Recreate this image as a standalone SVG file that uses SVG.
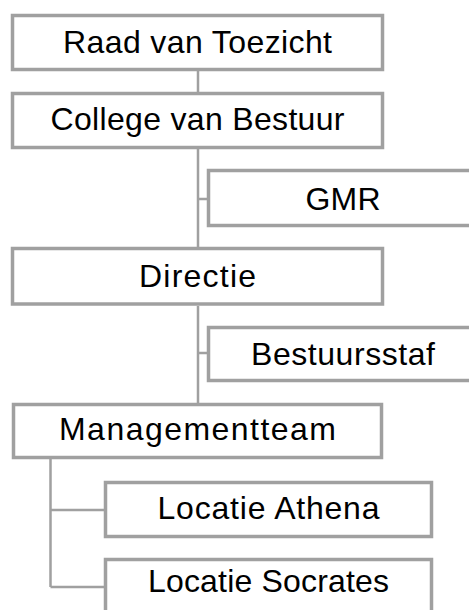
<svg xmlns="http://www.w3.org/2000/svg" width="469" height="610" viewBox="0 0 469 610">
<style>
.box{fill:#fff;stroke:#a0a0a0;stroke-width:3.5}
.lbl{font-family:"Liberation Sans",Arial,sans-serif;font-size:32px;fill:#000;text-anchor:middle}
.conn{fill:none;stroke:#a0a0a0;stroke-width:2.5}
</style>
<rect width="469" height="610" fill="#fff"/>
<g id="connectors">
<path class="conn" d="M198 71V92M198 148V247M198 199H207M198 306V403M198 353H207M50.5 459V587M50.5 510H104M50.5 587H104"/>
</g>
<g id="raad"><rect class="box" x="12.5" y="15.5" width="370" height="54"/><text class="lbl" x="197.5" y="53" textLength="269">Raad van Toezicht</text></g>
<g id="college"><rect class="box" x="12.5" y="93.5" width="370" height="54"/><text class="lbl" x="197.5" y="130" textLength="294">College van Bestuur</text></g>
<g id="gmr"><rect class="box" x="208.5" y="170.5" width="270" height="55"/><text class="lbl" x="343" y="210" textLength="75">GMR</text></g>
<g id="directie"><rect class="box" x="12.5" y="248.5" width="370" height="55.5"/><text class="lbl" x="197.5" y="287" textLength="117">Directie</text></g>
<g id="bestuursstaf"><rect class="box" x="208.5" y="327.5" width="270" height="53"/><text class="lbl" x="343" y="365" textLength="184">Bestuursstaf</text></g>
<g id="managementteam"><rect class="box" x="13.5" y="404.5" width="368" height="53"/><text class="lbl" x="197.5" y="440" textLength="277">Managementteam</text></g>
<g id="athena"><rect class="box" x="105.5" y="482.5" width="326" height="54"/><text class="lbl" x="268.5" y="519" textLength="222">Locatie Athena</text></g>
<g id="socrates"><rect class="box" x="105.5" y="559.5" width="326" height="70"/><text class="lbl" x="268.5" y="592" textLength="241">Locatie Socrates</text></g>
</svg>
